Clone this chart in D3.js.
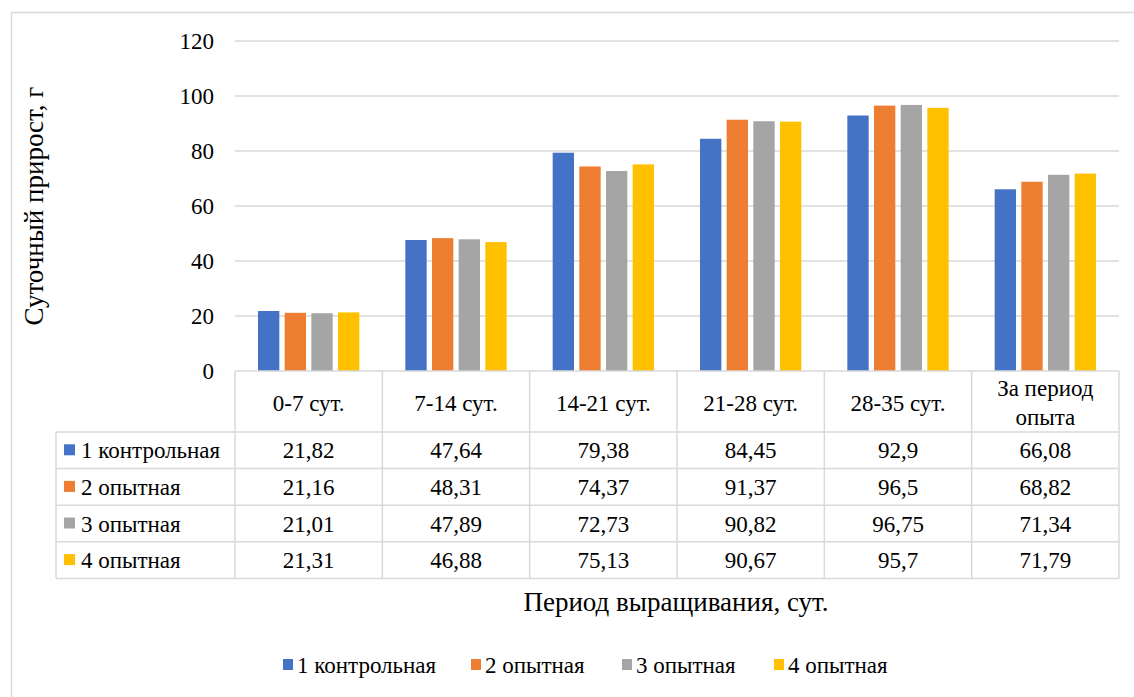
<!DOCTYPE html>
<html>
<head>
<meta charset="utf-8">
<script src="https://cdn.jsdelivr.net/npm/d3@7"></script>
<style>
  body { margin: 0; background: #fff; }
</style>
</head>
<body>
<div id="chart"></div>
<script>
// data
const categories = ["0-7 сут.", "7-14 сут.", "14-21 сут.", "21-28 сут.", "28-35 сут.", "За период опыта"];
const seriesNames = ["1 контрольная", "2 опытная", "3 опытная", "4 опытная"];
const group1 = [21.82, 47.64, 79.38, 84.45, 92.9, 66.08];
const group2 = [21.16, 48.31, 74.37, 91.37, 96.5, 68.82];
const group3 = [21.01, 47.89, 72.73, 90.82, 96.75, 71.34];
const group4 = [21.31, 46.88, 75.13, 90.67, 95.7, 71.79];
const yTicks = [0, 20, 40, 60, 80, 100, 120];
const colors = ["#4472C4", "#ED7D31", "#A5A5A5", "#FFC000"];

const W = 1134, H = 697;
const plot = {left: 235, right: 1119, top: 41, bottom: 371};
const tableLeft = 56, headerH = 61, rowH = 36.6;
const fs = 23;
const titleFs = 27;
const lineColor = "#d9d9d9";
const font = "Liberation Serif";

const allSeries = [group1, group2, group3, group4];

const svg = d3.select("#chart").append("svg")
  .attr("width", W).attr("height", H);

// every label goes through here so the serif face is set on the element itself
function label(sel, size) {
  return sel.append("text")
    .style("font-family", "'" + font + "'")
    .style("font-size", size + "px")
    .attr("fill", "#000");
}

svg.append("rect").attr("width", W).attr("height", H).attr("fill", "#fff");

// outer chart border (runs off the right / bottom)
svg.append("rect")
  .attr("x", 11.5).attr("y", 12.5)
  .attr("width", 1300).attr("height", 900)
  .attr("fill", "none").attr("stroke", lineColor).attr("stroke-width", 1.5);

const x = d3.scaleBand().domain(categories).range([plot.left, plot.right]);
const y = d3.scaleLinear().domain([0, 120]).range([plot.bottom, plot.top]);
const edge = 23;
const xi = d3.scaleBand().domain(seriesNames)
  .range([edge, x.bandwidth() - edge]).paddingInner(0.2);

// grid
svg.append("g").selectAll("line")
  .data(yTicks.filter(d => d > 0))
  .join("line")
  .attr("x1", plot.left).attr("x2", plot.right)
  .attr("y1", d => y(d)).attr("y2", d => y(d))
  .attr("stroke", lineColor).attr("stroke-width", 1.5);

// y tick labels
const yLab = svg.append("g");
yTicks.forEach(d => {
  label(yLab, fs)
    .attr("x", 214).attr("y", y(d)).attr("dy", "0.35em")
    .attr("text-anchor", "end")
    .text(d);
});

// bars
const rows = categories.map((c, i) => ({cat: c, vals: allSeries.map(s => s[i])}));
svg.append("g").selectAll("g")
  .data(rows)
  .join("g")
  .attr("transform", d => "translate(" + x(d.cat) + ",0)")
  .selectAll("rect")
  .data(d => d.vals.map((v, j) => ({name: seriesNames[j], v: v, color: colors[j]})))
  .join("rect")
  .attr("x", d => xi(d.name))
  .attr("width", xi.bandwidth())
  .attr("y", d => y(d.v))
  .attr("height", d => y(0) - y(d.v))
  .attr("fill", d => d.color);

// data table
const table = svg.append("g");
const tTop = plot.bottom;
const tBottom = tTop + headerH + rowH * seriesNames.length;
const colEdges = categories.map(c => x(c)).concat([plot.right]);

table.append("line")
  .attr("x1", plot.left).attr("x2", plot.right)
  .attr("y1", tTop).attr("y2", tTop)
  .attr("stroke", lineColor).attr("stroke-width", 1.5);
d3.range(seriesNames.length + 1).forEach(i => {
  const yy = tTop + headerH + i * rowH;
  table.append("line")
    .attr("x1", tableLeft).attr("x2", plot.right)
    .attr("y1", yy).attr("y2", yy)
    .attr("stroke", lineColor).attr("stroke-width", 1.5);
});
colEdges.forEach(xx => {
  table.append("line")
    .attr("x1", xx).attr("x2", xx)
    .attr("y1", tTop).attr("y2", tBottom)
    .attr("stroke", lineColor).attr("stroke-width", 1.5);
});
table.append("line")
  .attr("x1", tableLeft).attr("x2", tableLeft)
  .attr("y1", tTop + headerH).attr("y2", tBottom)
  .attr("stroke", lineColor).attr("stroke-width", 1.5);

// header labels, last one goes on two lines
categories.forEach(c => {
  const cx = x(c) + x.bandwidth() / 2;
  const t = label(table, fs).attr("x", cx).attr("text-anchor", "middle");
  const words = c.split(" ");
  const lines = c.length > 12 ? [words.slice(0, 2).join(" "), words.slice(2).join(" ")] : [c];
  const lh = 29;
  const cy = tTop + headerH / 2 + 1;
  lines.forEach((ln, k) => {
    t.append("tspan")
      .attr("x", cx)
      .attr("y", cy + (k - (lines.length - 1) / 2) * lh)
      .attr("dy", "0.35em")
      .text(ln);
  });
});

// rows
seriesNames.forEach((name, j) => {
  const cy = tTop + headerH + j * rowH + rowH / 2;
  table.append("rect")
    .attr("x", 64).attr("y", cy - 6)
    .attr("width", 11).attr("height", 11)
    .attr("fill", colors[j]);
  label(table, fs)
    .attr("x", 81).attr("y", cy).attr("dy", "0.35em")
    .text(name);
  allSeries[j].forEach((v, i) => {
    label(table, fs)
      .attr("x", x(categories[i]) + x.bandwidth() / 2)
      .attr("y", cy).attr("dy", "0.35em")
      .attr("text-anchor", "middle")
      .text(String(v).replace(".", ","));
  });
});

// axis titles
label(svg, titleFs)
  .attr("transform", "translate(43,206) rotate(-90)")
  .attr("text-anchor", "middle")
  .text("Суточный прирост, г");

label(svg, titleFs)
  .attr("x", 676).attr("y", 602).attr("dy", "0.35em")
  .attr("text-anchor", "middle")
  .text("Период выращивания, сут.");

// legend
const legendX = [283, 471, 622, 774];
const legend = svg.append("g");
seriesNames.forEach((name, j) => {
  legend.append("rect")
    .attr("x", legendX[j]).attr("y", 659)
    .attr("width", 10).attr("height", 11)
    .attr("fill", colors[j]);
  label(legend, fs)
    .attr("x", legendX[j] + 14).attr("y", 665).attr("dy", "0.35em")
    .text(name);
});
</script>
</body>
</html>
